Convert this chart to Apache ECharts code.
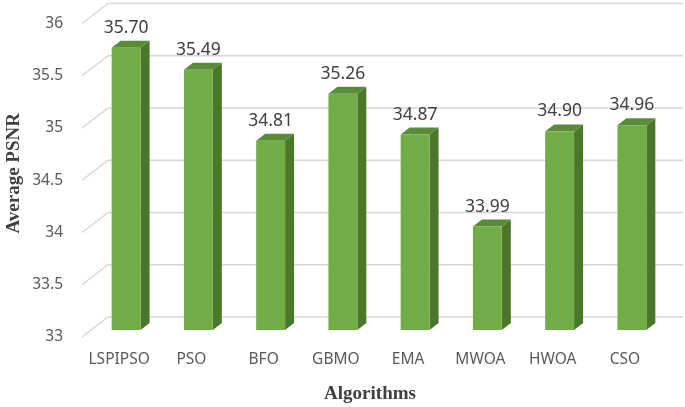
<!DOCTYPE html>
<html>
<head>
<meta charset="utf-8">
<script src="https://cdn.jsdelivr.net/npm/echarts@6/dist/echarts.min.js"></script>
<style>html,body{margin:0;padding:0;background:#fff}#c{width:685px;height:407px}</style>
</head>
<body>
<div id="c"></div>
<script>
var categories = ['LSPIPSO', 'PSO', 'BFO', 'GBMO', 'EMA', 'MWOA', 'HWOA', 'CSO'];
var psnr = [35.70, 35.49, 34.81, 35.26, 34.87, 33.99, 34.90, 34.96];
var yTicks = [33, 33.5, 34, 34.5, 35, 35.5, 36];

var chart = echarts.init(document.getElementById('c'), null, {renderer: 'canvas'});
var GRID_COLOR = '#d6d6d6';
var labelFont = '"Noto Sans", "Open Sans", sans-serif';
var serifFont = '"Liberation Serif", "Times New Roman", serif';

chart.setOption({
  animation: false,
  backgroundColor: '#fff',
  grid: {left: 90, right: 17, top: 16.5, bottom: 77, containLabel: false, outerBoundsMode: 'none'},
  xAxis: {
    type: 'category',
    data: categories,
    axisLine: {show: false},
    axisTick: {show: false},
    axisLabel: {show: false},
    name: 'Algorithms',
    nameLocation: 'middle',
    nameGap: 55,
    nameTextStyle: {color: '#404040', fontSize: 19, fontWeight: 'bold', fontFamily: serifFont, padding: [0, 18, 0, 0]}
  },
  yAxis: {
    type: 'value',
    min: 33, max: 36, interval: 0.5,
    axisLine: {show: false},
    axisTick: {show: false},
    splitLine: {show: false},
    axisLabel: {show: false},
    name: 'Average PSNR',
    nameLocation: 'middle',
    nameRotate: 90,
    nameGap: 66,
    nameTextStyle: {color: '#404040', fontSize: 19, fontWeight: 'bold', fontFamily: serifFont}
  },
  series: [
    {
      type: 'custom',
      silent: true,
      z: 1,
      data: yTicks.map(function (t) { return [0, t]; }),
      renderItem: function (params, api) {
        var cs = params.coordSys;
        var t = api.value(1);
        var y = api.coord([0, t])[1];
        var xFront = cs.x - 8, xBack = cs.x + 18;
        return {
          type: 'group',
          children: [
            {type: 'line', shape: {x1: xFront, y1: y + 7, x2: xBack, y2: y - 13}, style: {stroke: GRID_COLOR, lineWidth: 1.4}},
            {type: 'line', shape: {x1: xBack, y1: y - 13, x2: cs.x + cs.width + 15, y2: y - 13}, style: {stroke: GRID_COLOR, lineWidth: 1.4}},
            {type: 'text', x: cs.x - 27, y: y + 7, style: {text: String(t), fill: '#595959', fontSize: 15.5, fontFamily: labelFont, align: 'right', verticalAlign: 'middle'}}
          ]
        };
      }
    },
    {
      type: 'custom',
      z: 2,
      data: psnr.map(function (v, i) { return [i, v]; }),
      renderItem: function (params, api) {
        var i = api.value(0), v = api.value(1);
        var top = api.coord([i, v]);
        var base = api.coord([i, 33]);
        var w = api.size([1, 0])[0] * 0.4;
        var xl = top[0] - w / 2, xr = top[0] + w / 2;
        var yt = top[1], yb = base[1];
        var dx = 9, dy = -7;
        return {
          type: 'group',
          children: [
            {type: 'polygon', shape: {points: [[xr, yt], [xr + dx, yt + dy], [xr + dx, yb + dy], [xr, yb]]}, style: {fill: '#4a7729'}},
            {type: 'polygon', shape: {points: [[xl, yt], [xr, yt], [xr + dx, yt + dy], [xl + dx, yt + dy]]}, style: {fill: '#5a8b38'}},
            {type: 'rect', shape: {x: xl, y: yt, width: w, height: yb - yt}, style: {fill: '#70ad47'}},
            {type: 'text', x: top[0], y: yt - 20, style: {text: v.toFixed(2), fill: '#404040', fontSize: 17.5, fontFamily: labelFont, align: 'center', verticalAlign: 'middle'}},
            {type: 'text', x: top[0] - 7, y: yb + 30, style: {text: categories[i], fill: '#595959', fontSize: 15.5, fontFamily: labelFont, align: 'center', verticalAlign: 'middle'}}
          ]
        };
      }
    }
  ]
});
</script>
</body>
</html>
